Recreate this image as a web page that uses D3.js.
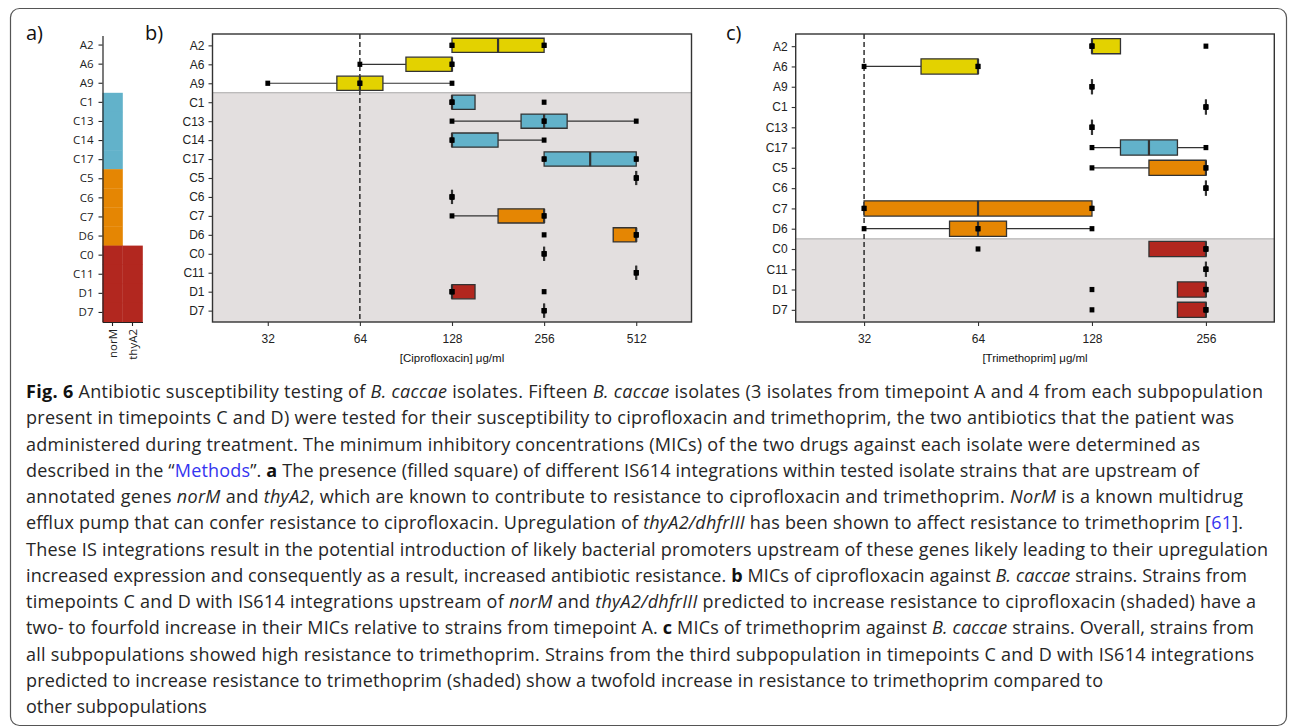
<!DOCTYPE html>
<html><head><meta charset="utf-8">
<script src="https://cdn.jsdelivr.net/npm/d3@7"></script>
<style>body{margin:0;background:#fff;} svg{display:block}</style>
</head><body>
<svg id="fig" width="1290" height="728"></svg>
<script>
// ---------------- data ----------------
const strains = ["A2","A6","A9","C1","C13","C14","C17","C5","C6","C7","D6","C0","C11","D1","D7"];
const strainGroup = [0,0,0,1,1,1,1,2,2,2,2,3,3,3,3];
const groupColors = ["#e3d200","#62b2ca","#e58603","#b2271f"];
const geneNames = ["norM","thyA2"];
const norMPresent  = [0,0,0,1,1,1,1,1,1,1,1,1,1,1,1];
const thyA2Present = [0,0,0,0,0,0,0,0,0,0,0,1,1,1,1];

// ciprofloxacin MIC replicates (µg/ml), one array per strain in `strains`
const ciproMIC = [
  [128,128,256,256], [64,128,128], [32,64,64,128], [128,128,128,256],
  [128,256,256,512], [128,128,256], [256,256,512,512], [512,512,512],
  [128,128,128], [128,256,256], [256,512,512,512], [256,256,256],
  [512,512,512], [128,128,128,256], [256,256,256]
];
const ciproTicks = [32,64,128,256,512];
const ciproShadeFrom = "C1";
const ciproBreakpoint = 64;

// trimethoprim MIC replicates (µg/ml)
const trimStrains = ["A2","A6","A9","C1","C13","C17","C5","C6","C7","D6","C0","C11","D1","D7"];
const trimGroup = [0,0,0,1,1,1,2,2,2,2,3,3,3,3];
const trimMIC = [
  [128,128,128,256], [32,64,64], [128,128,128], [256,256,256],
  [128,128,128], [128,256], [128,256,256], [256,256,256],
  [32,32,128,128], [32,64,64,128], [64,256,256,256], [256,256,256],
  [128,256,256,256], [128,256,256,256]
];
const trimTicks = [32,64,128,256];
const trimShadeFrom = "C0";
const trimBreakpoint = 32;

const captionLines = [
  [["b","Fig. 6"],["n"," Antibiotic susceptibility testing of "],["i","B. caccae"],["n"," isolates. Fifteen "],["i","B. caccae"],["n"," isolates (3 isolates from timepoint A and 4 from each subpopulation"]],
  [["n","present in timepoints C and D) were tested for their susceptibility to ciprofloxacin and trimethoprim, the two antibiotics that the patient was"]],
  [["n","administered during treatment. The minimum inhibitory concentrations (MICs) of the two drugs against each isolate were determined as"]],
  [["n","described in the \u201C"],["l","Methods"],["n","\u201D. "],["b","a"],["n"," The presence (filled square) of different IS614 integrations within tested isolate strains that are upstream of"]],
  [["n","annotated genes "],["i","norM"],["n"," and "],["i","thyA2"],["n",", which are known to contribute to resistance to ciprofloxacin and trimethoprim. "],["i","NorM"],["n"," is a known multidrug"]],
  [["n","efflux pump that can confer resistance to ciprofloxacin. Upregulation of "],["i","thyA2/dhfrIII"],["n"," has been shown to affect resistance to trimethoprim ["],["l","61"],["n","]."]],
  [["n","These IS integrations result in the potential introduction of likely bacterial promoters upstream of these genes likely leading to their upregulation"]],
  [["n","increased expression and consequently as a result, increased antibiotic resistance. "],["b","b"],["n"," MICs of ciprofloxacin against "],["i","B. caccae"],["n"," strains. Strains from"]],
  [["n","timepoints C and D with IS614 integrations upstream of "],["i","norM"],["n"," and "],["i","thyA2/dhfrIII"],["n"," predicted to increase resistance to ciprofloxacin (shaded) have a"]],
  [["n","two- to fourfold increase in their MICs relative to strains from timepoint A. "],["b","c"],["n"," MICs of trimethoprim against "],["i","B. caccae"],["n"," strains. Overall, strains from"]],
  [["n","all subpopulations showed high resistance to trimethoprim. Strains from the third subpopulation in timepoints C and D with IS614 integrations"]],
  [["n","predicted to increase resistance to trimethoprim (shaded) show a twofold increase in resistance to trimethoprim compared to"]],
  [["n","other subpopulations"]]
];
const captionRightEdges = [1263,1234,1200,1199,1243,1243,1268,1247,1256,1254,1254,1103,null];

// ---------------- drawing ----------------
const svg = d3.select("#fig");
const AX_FONT = "'Liberation Sans', Arial, sans-serif";
const CAP_FONT = "'Open Sans', 'Noto Sans', sans-serif";

svg.append("rect").attr("x",10.5).attr("y",8.5).attr("width",1276).attr("height",717)
  .attr("rx",9).attr("fill","none").attr("stroke","#555").attr("stroke-width",1.2);

function panelLabel(x, txt){
  svg.append("text").attr("x",x).attr("y",40).attr("font-family",CAP_FONT)
    .attr("font-size",20).attr("fill","#111").text(txt);
}
panelLabel(26,"a)"); panelLabel(145,"b)"); panelLabel(726,"c)");

// ---- panel a ----
{
  const x = d3.scaleBand().domain(geneNames).range([102.5,142.5]);
  const y = d3.scaleBand().domain(strains).range([35.5,322]);
  const g = svg.append("g");
  const tiles = [];
  strains.forEach((s,i)=>{
    if(norMPresent[i]) tiles.push({s, gene:"norM", c:groupColors[strainGroup[i]]});
    if(thyA2Present[i]) tiles.push({s, gene:"thyA2", c:groupColors[strainGroup[i]]});
  });
  g.selectAll("rect.tile").data(tiles).join("rect").attr("class","tile")
    .attr("x",d=>x(d.gene)).attr("y",d=>y(d.s))
    .attr("width",x.bandwidth()+0.3).attr("height",y.bandwidth()+0.3)
    .attr("fill",d=>d.c);
  const ya = g.append("g").attr("transform","translate(102.5,0)")
    .call(d3.axisLeft(y).tickSize(4).tickSizeOuter(0).tickPadding(5));
  const xa = g.append("g").attr("transform","translate(0,322)")
    .call(d3.axisBottom(x).tickSize(4).tickSizeOuter(0));
  xa.selectAll("text").attr("y",0).attr("x",-7).attr("dy","0.35em")
    .attr("transform","rotate(-90)").style("text-anchor","end");
  [ya,xa].forEach(a=>{
    a.selectAll("path").attr("stroke","#222").attr("stroke-width",1.2);
    a.selectAll("line").attr("stroke","#222").attr("stroke-width",1.1);
    a.selectAll("text").attr("font-family",CAP_FONT).attr("font-size",11.5).attr("fill","#222");
  });
}

// ---- box panels ----
function boxPanel(opt){
  const {left,right,top,bottom,names,groups,values,domainLog,ticks,shadeFrom,breakpoint,title} = opt;
  const x = d3.scaleLog().base(2).domain(domainLog.map(v=>Math.pow(2,v))).range([left,right]);
  const y = d3.scalePoint().domain(names).range([top,bottom]).padding(0.6);
  const step = y.step();
  const g = svg.append("g");
  // background
  const iShade = names.indexOf(shadeFrom);
  const yShade = (y(names[iShade-1]) + y(names[iShade]))/2;
  g.append("rect").attr("x",left).attr("y",top).attr("width",right-left).attr("height",bottom-top).attr("fill","#fff");
  g.append("rect").attr("x",left).attr("y",yShade).attr("width",right-left).attr("height",bottom-yShade).attr("fill","#e3dfdf");
  g.append("line").attr("x1",left).attr("x2",right).attr("y1",yShade).attr("y2",yShade)
    .attr("stroke","#a9a9a9").attr("stroke-width",1);
  // breakpoint
  g.append("line").attr("x1",x(breakpoint)).attr("x2",x(breakpoint)).attr("y1",top).attr("y2",bottom)
    .attr("stroke","#111").attr("stroke-width",1.3).attr("stroke-dasharray","5,3");
  // stats
  const stats = names.map((s,i)=>{
    const l = values[i].map(v=>Math.log2(v)).sort(d3.ascending);
    const q1 = d3.quantile(l,0.25), med = d3.quantile(l,0.5), q3 = d3.quantile(l,0.75);
    const iqr = q3-q1;
    const inside = l.filter(v=>v>=q1-1.5*iqr-1e-9 && v<=q3+1.5*iqr+1e-9);
    return {s, c:groupColors[groups[i]], q1:2**q1, med:2**med, q3:2**q3,
            lo:2**d3.min(inside), hi:2**d3.max(inside), pts:values[i]};
  });
  const hh = step*0.375;
  // whiskers
  g.selectAll("path.wh").data(stats).join("path").attr("class","wh")
    .attr("d",d=>`M${x(d.lo)},${y(d.s)}H${x(d.q1)}M${x(d.q3)},${y(d.s)}H${x(d.hi)}`)
    .attr("stroke","#333").attr("stroke-width",1.2).attr("fill","none");
  // boxes
  g.selectAll("path.box").data(stats).join("path").attr("class","box")
    .attr("d",d=>`M${x(d.q1)},${y(d.s)-hh}H${x(d.q3)}V${y(d.s)+hh}H${x(d.q1)}Z`)
    .attr("fill",d=>d.c).attr("stroke","#333").attr("stroke-width",1.3);
  g.selectAll("line.med").data(stats).join("line").attr("class","med")
    .attr("x1",d=>x(d.med)).attr("x2",d=>x(d.med))
    .attr("y1",d=>y(d.s)-hh).attr("y2",d=>y(d.s)+hh)
    .attr("stroke","#333").attr("stroke-width",2.2);
  // points
  const pts = [];
  stats.forEach(d=>d.pts.forEach(v=>pts.push({s:d.s,v})));
  g.selectAll("rect.pt").data(pts).join("rect").attr("class","pt")
    .attr("x",d=>x(d.v)-2.4).attr("y",d=>y(d.s)-2.6).attr("width",4.8).attr("height",5.2)
    .attr("fill","#000");
  // frame
  g.append("rect").attr("x",left).attr("y",top).attr("width",right-left).attr("height",bottom-top)
    .attr("fill","none").attr("stroke","#333").attr("stroke-width",1.4);
  // axes
  const ya = g.append("g").attr("transform",`translate(${left},0)`)
    .call(d3.axisLeft(y).tickSize(4).tickSizeOuter(0).tickPadding(4));
  const xa = g.append("g").attr("transform",`translate(0,${bottom})`)
    .call(d3.axisBottom(x).tickValues(ticks).tickFormat(d3.format("d")).tickSize(4).tickSizeOuter(0).tickPadding(8));
  [ya,xa].forEach(a=>{
    a.select("path.domain").remove();
    a.selectAll("line").attr("stroke","#333").attr("stroke-width",1.1);
    a.selectAll("text").attr("font-family",AX_FONT).attr("font-size",12).attr("fill","#222");
  });
  g.append("text").attr("x",(left+right)/2).attr("y",bottom+40).attr("text-anchor","middle")
    .attr("font-family",AX_FONT).attr("font-size",11.5).attr("fill","#111").text(title);
}

boxPanel({left:212.5,right:691.5,top:34,bottom:322,names:strains,groups:strainGroup,values:ciproMIC,
  domainLog:[4.4,9.6],ticks:ciproTicks,shadeFrom:ciproShadeFrom,breakpoint:ciproBreakpoint,
  title:"[Ciprofloxacin] \u03BCg/ml"});
boxPanel({left:795.7,right:1274.3,top:34,bottom:322,names:trimStrains,groups:trimGroup,values:trimMIC,
  domainLog:[4.4,8.6],ticks:trimTicks,shadeFrom:trimShadeFrom,breakpoint:trimBreakpoint,
  title:"[Trimethoprim] \u03BCg/ml"});

// ---- caption ----
const cap = svg.append("g").attr("font-family",CAP_FONT).attr("font-size",18).attr("fill","#262626");
captionLines.forEach((segs,i)=>{
  const t = cap.append("text").attr("x",26).attr("y",398+i*26.25);
  segs.forEach(([st,txt])=>{
    const ts = t.append("tspan").text(txt);
    if(st==="b") ts.attr("font-weight","bold").attr("fill","#111");
    if(st==="i") ts.attr("font-style","italic");
    if(st==="l") ts.attr("fill","#3434f0");
  });
  if(captionRightEdges[i]) t.attr("textLength",captionRightEdges[i]-26).attr("lengthAdjust","spacing");
});
</script>
</body></html>
